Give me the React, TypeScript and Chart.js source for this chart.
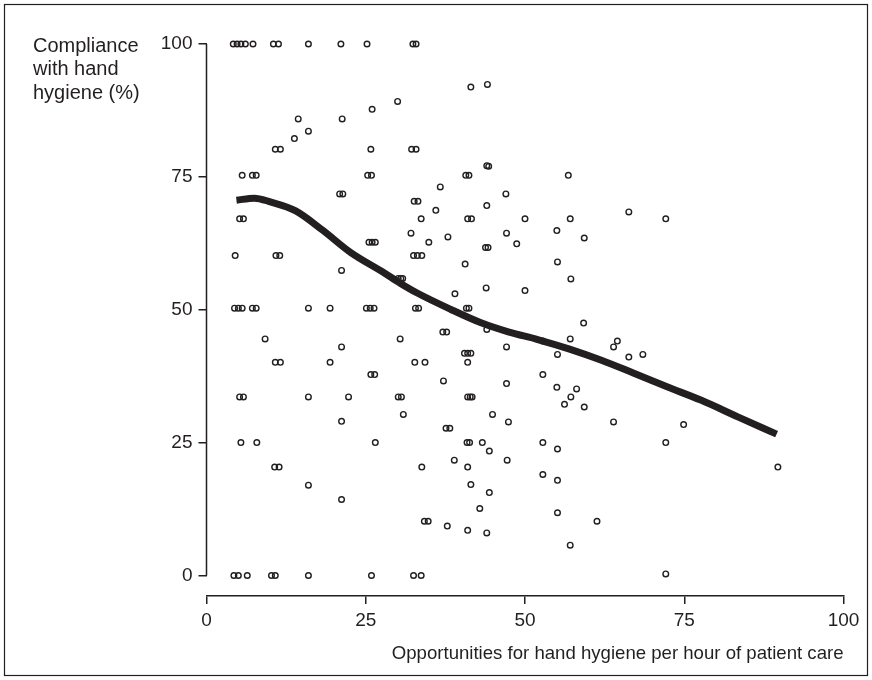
import React, { useEffect, useRef } from "react";
import { Chart, registerables } from "chart.js";

Chart.register(...registerables);

const INK = "#231f20";
const FONT = '"Liberation Sans", Arial, Helvetica, sans-serif';

// Observations (opportunities per hour, compliance %)
const pointX = [
  4.2, 4.8, 5.4, 6.1, 7.3, 10.5, 11.3, 16.0, 21.1, 25.2, 32.4, 32.9,
  41.5, 44.1, 30.0, 26.0, 14.4, 21.3, 16.0, 13.8, 10.8, 11.6, 25.8, 32.2, 32.9, 44.0, 44.3,
  5.6, 7.2, 7.8, 25.3, 25.9, 40.7, 41.2, 56.8,
  36.7, 20.9, 21.4, 47.0, 32.6, 33.2, 44.0, 36.0, 66.3, 5.2, 5.8, 33.7, 41.0, 41.6, 50.0, 57.1, 72.1,
  55.0, 32.1, 47.1, 37.9, 59.3, 34.9, 25.5, 26.0, 26.5, 48.7, 43.8, 44.2, 4.5, 10.9, 11.5, 32.5, 33.1, 33.8,
  55.1, 40.6, 21.2, 30.1, 30.5, 30.8, 57.2, 43.9, 50.0, 39.0,
  4.4, 5.0, 5.6, 7.2, 7.8, 16.0, 19.4, 25.1, 25.7, 26.3, 32.8, 33.3, 40.8, 41.2,
  59.2, 44.0, 37.1, 37.7, 9.2, 30.4, 57.1, 52.8, 64.5, 21.2, 47.1, 63.9, 40.5, 41.0, 41.5, 55.1, 68.5, 66.3,
  10.8, 11.6, 19.4, 32.7, 34.3, 41.0,
  25.8, 26.4, 52.8, 37.2, 47.1, 55.0, 58.1, 5.2, 5.8, 16.0, 22.3, 30.1, 30.6, 41.0, 41.4, 41.7, 57.2, 56.2, 59.3, 30.9, 44.9,
  21.2, 47.4, 63.9, 74.9, 37.6, 38.2, 5.4, 7.9, 26.5, 40.9, 41.3, 43.3, 52.8, 72.1, 55.1, 44.4, 38.9, 47.2, 10.7, 11.4, 33.8, 41.0, 89.7,
  52.8, 55.1, 41.5, 16.0, 44.4, 21.2, 42.9, 55.1, 34.2, 34.8, 61.3, 37.8, 41.0, 44.0, 57.1,
  4.3, 5.0, 6.4, 10.2, 10.8, 16.0, 25.9, 32.5, 33.7, 72.1,
];
const pointY = [
  100, 100, 100, 100, 100, 100, 100, 100, 100, 100, 100, 100,
  91.9, 92.4, 89.2, 87.7, 85.9, 85.9, 83.6, 82.2, 80.2, 80.2, 80.2, 80.2, 80.2, 77.1, 77.0,
  75.3, 75.3, 75.3, 75.3, 75.3, 75.3, 75.3, 75.3,
  73.1, 71.8, 71.8, 71.8, 70.4, 70.4, 69.6, 68.7, 68.4, 67.1, 67.1, 67.1, 67.1, 67.1, 67.1, 67.1, 67.1,
  64.9, 64.4, 64.4, 63.7, 63.5, 62.7, 62.7, 62.7, 62.7, 62.4, 61.7, 61.7, 60.2, 60.2, 60.2, 60.2, 60.2, 60.2,
  59.0, 58.6, 57.4, 55.9, 55.9, 55.9, 55.8, 54.1, 53.6, 53.0,
  50.3, 50.3, 50.3, 50.3, 50.3, 50.3, 50.3, 50.3, 50.3, 50.3, 50.3, 50.3, 50.3, 50.3,
  47.5, 46.3, 45.8, 45.8, 44.5, 44.5, 44.5, 44.1, 44.1, 43.0, 43.0, 43.0, 41.8, 41.8, 41.8, 41.6, 41.6, 41.1,
  40.1, 40.1, 40.1, 40.1, 40.1, 40.1,
  37.8, 37.8, 37.8, 36.6, 36.1, 35.4, 35.1, 33.6, 33.6, 33.6, 33.6, 33.6, 33.6, 33.6, 33.6, 33.6, 33.6, 32.2, 31.7, 30.3, 30.3,
  29.0, 28.9, 28.9, 28.4, 27.7, 27.7, 25.0, 25.0, 25.0, 25.0, 25.0, 25.0, 25.0, 25.0, 23.8, 23.4, 21.7, 21.7, 20.4, 20.4, 20.4, 20.4, 20.4,
  19.0, 17.9, 17.1, 17.0, 15.6, 14.3, 12.6, 11.8, 10.2, 10.2, 10.2, 9.3, 8.5, 8.0, 5.7,
  0, 0, 0, 0, 0, 0, 0, 0, 0, 0.3,
];

// Smoothed trend
const curveX = [4.7, 7.5, 10, 14, 18.2, 22.6, 27.8, 30.4, 33, 38.3, 43, 47.5, 52, 57, 62, 67, 72.3, 77.6, 83.5, 89.5];
const curveY = [70.6, 71.0, 70.3, 68.6, 65.0, 60.8, 57.0, 55.0, 53.2, 50.1, 47.6, 45.8, 44.4, 42.6, 40.5, 38.1, 35.5, 33.0, 29.8, 26.6];

const xTicks = [0, 25, 50, 75, 100];
const yTicks = [0, 25, 50, 75, 100];
const xTitle = "Opportunities for hand hygiene per hour of patient care";
const yTitleLines = ["Compliance", "with hand", "hygiene (%)"];

const decor = {
  id: "decor",
  beforeDraw(chart: any) {
    const ctx = chart.ctx;
    ctx.save();
    ctx.fillStyle = "#ffffff";
    ctx.fillRect(0, 0, chart.width, chart.height);
    ctx.restore();
  },
  afterDraw(chart: any) {
    const ctx = chart.ctx;
    const ys = chart.scales.y;
    const left = chart.chartArea.left;
    ctx.save();
    ctx.strokeStyle = INK;
    ctx.lineWidth = 1.5;
    ctx.beginPath();
    ctx.moveTo(left, ys.getPixelForValue(yTicks[yTicks.length - 1]));
    ctx.lineTo(left, ys.getPixelForValue(yTicks[0]));
    ctx.stroke();
    ctx.lineWidth = 1.2;
    ctx.strokeRect(4.5, 4.5, 863, 671);
    ctx.fillStyle = INK;
    ctx.font = `20px ${FONT}`;
    ctx.textAlign = "left";
    ctx.textBaseline = "middle";
    yTitleLines.forEach((line, i) => ctx.fillText(line, 33, 46 + i * 23.5));
    ctx.restore();
  },
};

export default function App() {
  const ref = useRef<HTMLCanvasElement | null>(null);
  useEffect(() => {
    if (!ref.current) return;
    const points = pointX.map((x, i) => ({ x, y: pointY[i] }));
    const curve = curveX.map((x, i) => ({ x, y: curveY[i] }));
    const chart = new Chart(ref.current, {
      type: "scatter",
      data: {
        datasets: [
          {
            type: "line",
            data: curve,
            showLine: true,
            borderColor: INK,
            borderWidth: 7,
            borderCapStyle: "butt",
            pointRadius: 0,
            cubicInterpolationMode: "monotone",
            fill: false,
            clip: false,
          } as any,
          {
            data: points,
            pointStyle: "circle",
            pointRadius: 2.8,
            pointBorderWidth: 1.4,
            borderColor: INK,
            backgroundColor: "rgba(0,0,0,0)",
            pointBackgroundColor: "rgba(0,0,0,0)",
            pointBorderColor: INK,
            clip: false,
          } as any,
        ],
      },
      options: {
        responsive: false,
        animation: false,
        devicePixelRatio: 1,
        layout: { padding: { top: 44, right: 28.5, left: 0, bottom: 0 } },
        plugins: { legend: { display: false }, tooltip: { enabled: false } },
        scales: {
          x: {
            type: "linear",
            min: xTicks[0],
            max: xTicks[xTicks.length - 1],
            afterFit: (s: any) => {
              s.height = 84;
            },
            afterBuildTicks: (s: any) => {
              s.ticks = xTicks.map((v) => ({ value: v }));
            },
            border: { display: true, color: INK, width: 1.5 },
            grid: { display: true, drawOnChartArea: false, drawTicks: true, tickLength: 8, color: INK, lineWidth: 1.5 },
            ticks: { color: INK, font: { family: FONT, size: 19 }, padding: 5, maxRotation: 0 },
            title: {
              display: true,
              text: xTitle,
              align: "end",
              color: INK,
              font: { family: FONT, size: 18.6 },
              padding: { top: 0, bottom: 15 },
            },
          },
          y: {
            type: "linear",
            min: -3.86,
            max: yTicks[yTicks.length - 1],
            afterFit: (s: any) => {
              s.width = 206.5;
            },
            afterBuildTicks: (s: any) => {
              s.ticks = yTicks.map((v) => ({ value: v }));
            },
            border: { display: false },
            grid: { display: true, drawOnChartArea: false, drawTicks: true, tickLength: 8, color: INK, lineWidth: 1.5 },
            ticks: { color: INK, font: { family: FONT, size: 19 }, padding: 6 },
          },
        },
      },
      plugins: [decor],
    });
    return () => chart.destroy();
  }, []);
  return (
    <div style={{ position: "absolute", left: 0, top: 0, width: 872, height: 680, background: "#fff" }}>
      <canvas ref={ref} width={872} height={680} style={{ width: 872, height: 680, display: "block" }} />
    </div>
  );
}
